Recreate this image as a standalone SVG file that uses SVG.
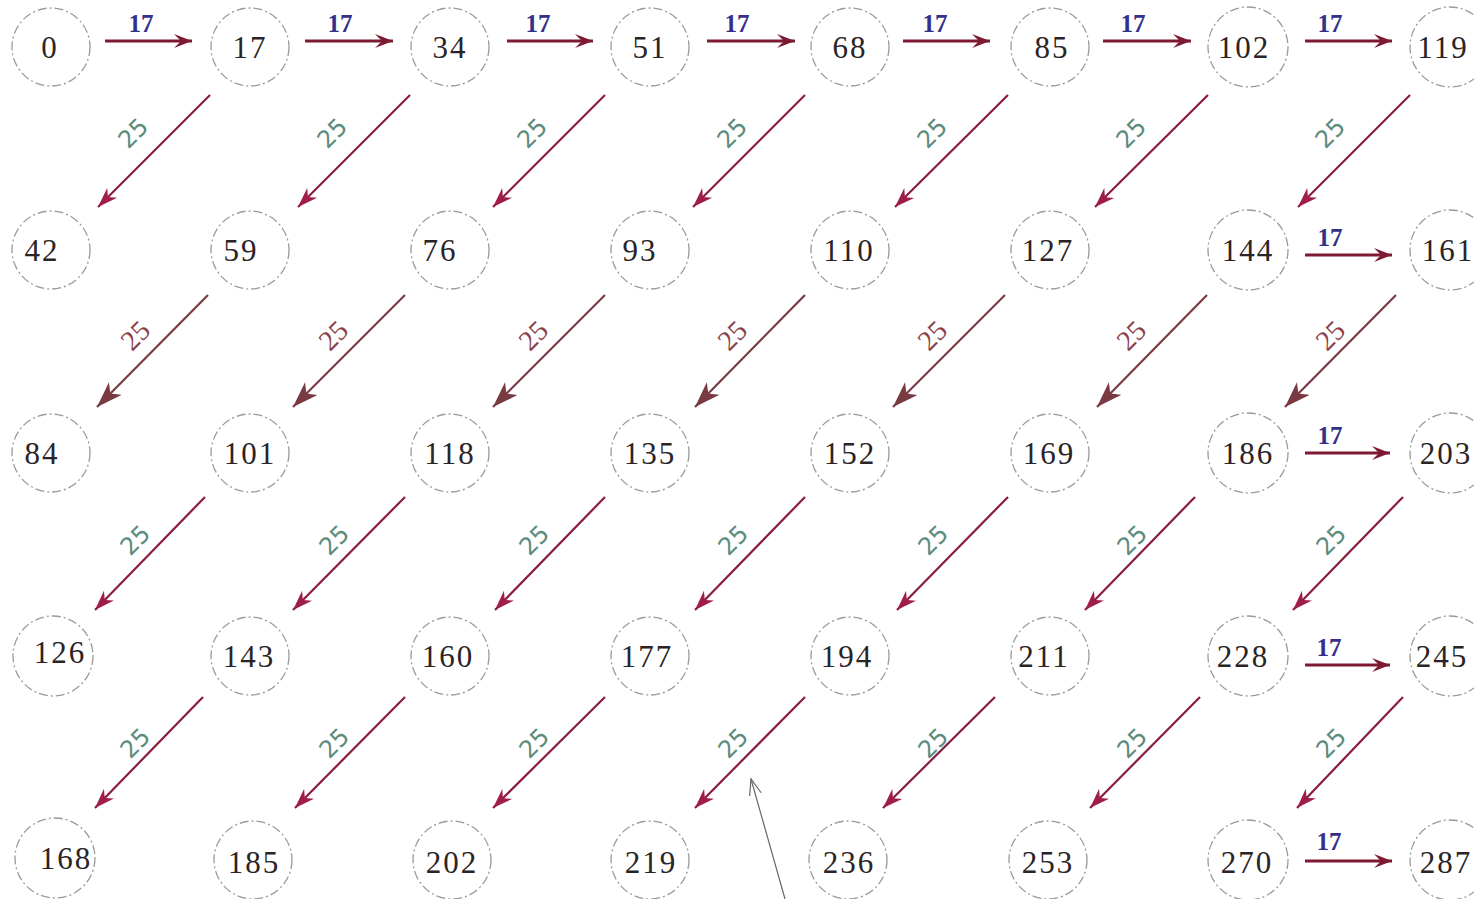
<svg xmlns="http://www.w3.org/2000/svg" width="1474" height="899" viewBox="0 0 1474 899">
<style>
.nd circle{fill:none;stroke:#9a9a9a;stroke-width:1.3;stroke-dasharray:9 3 2 3}
.nd text{font-family:"Liberation Serif",serif;font-size:31px;fill:#2a2426;text-anchor:middle;letter-spacing:2px}
.h{stroke:#7d1a32;stroke-width:3;fill:none;marker-end:url(#mh)}
.d{stroke:#8a1c3e;stroke-width:2.2;fill:none;marker-end:url(#md)}
.b{stroke:#7a3a42;stroke-width:2.2;fill:none;marker-end:url(#mb)}
.l17{font-family:"Liberation Serif",serif;font-weight:bold;font-size:25px;fill:#33308c;text-anchor:middle}
.l25{font-family:"DejaVu Sans",sans-serif;font-size:24px;fill:#5c8c7c;text-anchor:middle}
.l25b{font-family:"Liberation Serif",serif;font-size:28px;fill:#8a4048;text-anchor:middle}
</style>
<defs>
<marker id="mh" markerUnits="userSpaceOnUse" markerWidth="24" markerHeight="16" refX="18" refY="7" orient="auto">
<path d="M0,0 L18,7 L0,14 L7,7 z" fill="#7d1a32"/>
</marker>
<marker id="md" markerUnits="userSpaceOnUse" markerWidth="24" markerHeight="18" refX="20" refY="8" orient="auto">
<path d="M0,1 L20,8 L0,15 L6,8 z" fill="#a01c4a"/>
</marker>
<marker id="mb" markerUnits="userSpaceOnUse" markerWidth="30" markerHeight="20" refX="26" refY="9" orient="auto">
<path d="M0,0 L26,9 L0,18 L7,9 z" fill="#7a3a42"/>
</marker>
<marker id="mg" markerUnits="userSpaceOnUse" markerWidth="20" markerHeight="14" refX="16" refY="6" orient="auto">
<path d="M0,0 L16,6 L0,12" fill="none" stroke="#666" stroke-width="1.2"/>
</marker>
</defs>

<g id="n0" class="nd"><circle cx="51" cy="47" r="39"/><text x="50" y="58">0</text></g>
<g id="n17" class="nd"><circle cx="250" cy="47" r="39"/><text x="250" y="58">17</text></g>
<g id="n34" class="nd"><circle cx="450" cy="47" r="39"/><text x="450" y="58">34</text></g>
<g id="n51" class="nd"><circle cx="650" cy="47" r="39"/><text x="650" y="58">51</text></g>
<g id="n68" class="nd"><circle cx="850" cy="47" r="39"/><text x="850" y="58">68</text></g>
<g id="n85" class="nd"><circle cx="1050" cy="47" r="39"/><text x="1052" y="58">85</text></g>
<g id="n102" class="nd"><circle cx="1248" cy="47" r="40"/><text x="1244" y="58">102</text></g>
<g id="n119" class="nd"><circle cx="1450" cy="47" r="40"/><text x="1443" y="58">119</text></g>

<g id="n42" class="nd"><circle cx="51" cy="250" r="39"/><text x="42" y="261">42</text></g>
<g id="n59" class="nd"><circle cx="250" cy="250" r="39"/><text x="241" y="261">59</text></g>
<g id="n76" class="nd"><circle cx="450" cy="250" r="39"/><text x="440" y="261">76</text></g>
<g id="n93" class="nd"><circle cx="650" cy="250" r="39"/><text x="640" y="261">93</text></g>
<g id="n110" class="nd"><circle cx="850" cy="250" r="39"/><text x="849" y="261">110</text></g>
<g id="n127" class="nd"><circle cx="1050" cy="250" r="39"/><text x="1048" y="261">127</text></g>
<g id="n144" class="nd"><circle cx="1248" cy="250" r="40"/><text x="1248" y="261">144</text></g>
<g id="n161" class="nd"><circle cx="1450" cy="250" r="40"/><text x="1448" y="261">161</text></g>

<g id="n84" class="nd"><circle cx="51" cy="453" r="39"/><text x="42" y="464">84</text></g>
<g id="n101" class="nd"><circle cx="250" cy="453" r="39"/><text x="250" y="464">101</text></g>
<g id="n118" class="nd"><circle cx="450" cy="453" r="39"/><text x="450" y="464">118</text></g>
<g id="n135" class="nd"><circle cx="650" cy="453" r="39"/><text x="650" y="464">135</text></g>
<g id="n152" class="nd"><circle cx="850" cy="453" r="39"/><text x="850" y="464">152</text></g>
<g id="n169" class="nd"><circle cx="1050" cy="453" r="39"/><text x="1049" y="464">169</text></g>
<g id="n186" class="nd"><circle cx="1248" cy="453" r="40"/><text x="1248" y="464">186</text></g>
<g id="n203" class="nd"><circle cx="1450" cy="453" r="40"/><text x="1446" y="464">203</text></g>

<g id="n126" class="nd"><circle cx="53" cy="656" r="40"/><text x="60" y="663">126</text></g>
<g id="n143" class="nd"><circle cx="250" cy="656" r="39"/><text x="249" y="667">143</text></g>
<g id="n160" class="nd"><circle cx="450" cy="656" r="39"/><text x="448" y="667">160</text></g>
<g id="n177" class="nd"><circle cx="650" cy="656" r="39"/><text x="647" y="667">177</text></g>
<g id="n194" class="nd"><circle cx="850" cy="656" r="39"/><text x="847" y="667">194</text></g>
<g id="n211" class="nd"><circle cx="1050" cy="656" r="39"/><text x="1044" y="667">211</text></g>
<g id="n228" class="nd"><circle cx="1248" cy="656" r="40"/><text x="1243" y="667">228</text></g>
<g id="n245" class="nd"><circle cx="1450" cy="656" r="40"/><text x="1442" y="667">245</text></g>

<g id="n168" class="nd"><circle cx="55" cy="858" r="40"/><text x="66" y="869">168</text></g>
<g id="n185" class="nd"><circle cx="253" cy="860" r="39"/><text x="254" y="873">185</text></g>
<g id="n202" class="nd"><circle cx="452" cy="860" r="39"/><text x="452" y="873">202</text></g>
<g id="n219" class="nd"><circle cx="650" cy="860" r="39"/><text x="651" y="873">219</text></g>
<g id="n236" class="nd"><circle cx="848" cy="860" r="39"/><text x="849" y="873">236</text></g>
<g id="n253" class="nd"><circle cx="1048" cy="860" r="39"/><text x="1048" y="873">253</text></g>
<g id="n270" class="nd"><circle cx="1248" cy="860" r="40"/><text x="1247" y="873">270</text></g>
<g id="n287" class="nd"><circle cx="1450" cy="860" r="40"/><text x="1446" y="873">287</text></g>

<g id="connectors">
<line class="h" x1="105" y1="41" x2="192" y2="41"/>
<line class="h" x1="305" y1="41" x2="393" y2="41"/>
<line class="h" x1="507" y1="41" x2="593" y2="41"/>
<line class="h" x1="707" y1="41" x2="795" y2="41"/>
<line class="h" x1="903" y1="41" x2="990" y2="41"/>
<line class="h" x1="1103" y1="41" x2="1191" y2="41"/>
<line class="h" x1="1305" y1="41" x2="1392" y2="41"/>
<line class="h" x1="1305" y1="255" x2="1392" y2="255"/>
<line class="h" x1="1305" y1="453" x2="1390" y2="453"/>
<line class="h" x1="1305" y1="665" x2="1390" y2="665"/>
<line class="h" x1="1305" y1="861" x2="1392" y2="861"/>
<line class="d" x1="210" y1="95" x2="98" y2="207"/>
<line class="d" x1="410" y1="95" x2="298" y2="207"/>
<line class="d" x1="605" y1="95" x2="493" y2="207"/>
<line class="d" x1="805" y1="95" x2="693" y2="207"/>
<line class="d" x1="1008" y1="95" x2="895" y2="207"/>
<line class="d" x1="1208" y1="95" x2="1095" y2="207"/>
<line class="d" x1="1410" y1="95" x2="1298" y2="207"/>
<line class="b" x1="208" y1="295" x2="97" y2="407"/>
<line class="b" x1="405" y1="295" x2="293" y2="407"/>
<line class="b" x1="605" y1="295" x2="493" y2="407"/>
<line class="b" x1="805" y1="295" x2="695" y2="407"/>
<line class="b" x1="1005" y1="295" x2="893" y2="407"/>
<line class="b" x1="1207" y1="295" x2="1097" y2="407"/>
<line class="b" x1="1396" y1="295" x2="1285" y2="407"/>
<line class="d" x1="205" y1="497" x2="95" y2="610"/>
<line class="d" x1="405" y1="497" x2="293" y2="610"/>
<line class="d" x1="605" y1="497" x2="495" y2="610"/>
<line class="d" x1="805" y1="497" x2="695" y2="610"/>
<line class="d" x1="1008" y1="497" x2="897" y2="610"/>
<line class="d" x1="1195" y1="497" x2="1085" y2="610"/>
<line class="d" x1="1403" y1="497" x2="1293" y2="610"/>
<line class="d" x1="203" y1="697" x2="95" y2="808"/>
<line class="d" x1="405" y1="697" x2="295" y2="808"/>
<line class="d" x1="605" y1="697" x2="493" y2="808"/>
<line class="d" x1="805" y1="697" x2="695" y2="808"/>
<line class="d" x1="995" y1="697" x2="883" y2="808"/>
<line class="d" x1="1200" y1="697" x2="1090" y2="808"/>
<line class="d" x1="1403" y1="697" x2="1297" y2="808"/>
<line x1="785" y1="899" x2="751" y2="779" stroke="#666" stroke-width="1.2" marker-end="url(#mg)"/>
</g>

<g id="labels">
<text class="l17" x="141" y="32">17</text>
<text class="l17" x="340" y="32">17</text>
<text class="l17" x="538" y="32">17</text>
<text class="l17" x="737" y="32">17</text>
<text class="l17" x="935" y="32">17</text>
<text class="l17" x="1133" y="32">17</text>
<text class="l17" x="1330" y="32">17</text>
<text class="l17" x="1330" y="246">17</text>
<text class="l17" x="1330" y="444">17</text>
<text class="l17" x="1329" y="656">17</text>
<text class="l17" x="1329" y="850">17</text>

<text class="l25" transform="translate(139,139) rotate(-45)">25</text>
<text class="l25" transform="translate(338,139) rotate(-45)">25</text>
<text class="l25" transform="translate(538,139) rotate(-45)">25</text>
<text class="l25" transform="translate(738,139) rotate(-45)">25</text>
<text class="l25" transform="translate(938,139) rotate(-45)">25</text>
<text class="l25" transform="translate(1137,139) rotate(-45)">25</text>
<text class="l25" transform="translate(1336,139) rotate(-45)">25</text>

<text class="l25b" transform="translate(142,342) rotate(-45)">25</text>
<text class="l25b" transform="translate(340,342) rotate(-45)">25</text>
<text class="l25b" transform="translate(540,342) rotate(-45)">25</text>
<text class="l25b" transform="translate(739,342) rotate(-45)">25</text>
<text class="l25b" transform="translate(939,342) rotate(-45)">25</text>
<text class="l25b" transform="translate(1138,342) rotate(-45)">25</text>
<text class="l25b" transform="translate(1337,342) rotate(-45)">25</text>

<text class="l25" transform="translate(141,546) rotate(-45)">25</text>
<text class="l25" transform="translate(340,546) rotate(-45)">25</text>
<text class="l25" transform="translate(540,546) rotate(-45)">25</text>
<text class="l25" transform="translate(739,546) rotate(-45)">25</text>
<text class="l25" transform="translate(939,546) rotate(-45)">25</text>
<text class="l25" transform="translate(1138,546) rotate(-45)">25</text>
<text class="l25" transform="translate(1337,546) rotate(-45)">25</text>

<text class="l25" transform="translate(141,749) rotate(-45)">25</text>
<text class="l25" transform="translate(340,749) rotate(-45)">25</text>
<text class="l25" transform="translate(540,749) rotate(-45)">25</text>
<text class="l25" transform="translate(739,749) rotate(-45)">25</text>
<text class="l25" transform="translate(939,749) rotate(-45)">25</text>
<text class="l25" transform="translate(1138,749) rotate(-45)">25</text>
<text class="l25" transform="translate(1337,749) rotate(-45)">25</text>
</g>
</svg>
